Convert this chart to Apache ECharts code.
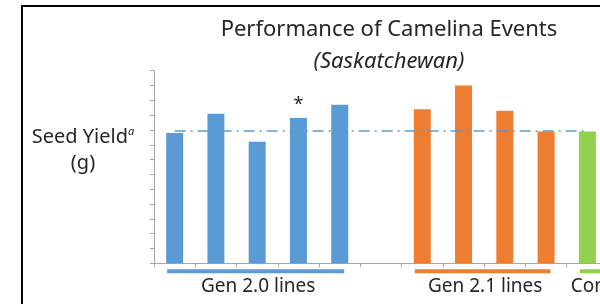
<!DOCTYPE html>
<html>
<head>
<meta charset="utf-8">
<script src="https://cdn.jsdelivr.net/npm/echarts@6/dist/echarts.min.js"></script>
<style>
  html, body { margin: 0; padding: 0; overflow: hidden; background: #fff; }
  #chart { width: 620px; height: 304px; }
</style>
</head>
<body>
<div id="chart"></div>
<script>
// Seed yield per camelina event (y axis 0..13, unlabeled)
const categories = ['g20a', 'g20b', 'g20c', 'g20d', 'g20e', 'gap', 'g21a', 'g21b', 'g21c', 'g21d', 'ctl'];
const gen20Yield = [8.8, 10.1, 8.2, 9.8, 10.7, null, null, null, null, null, null];
const gen21Yield = [null, null, null, null, null, null, 10.4, 12.0, 10.3, 8.9, null];
const controlYield = [null, null, null, null, null, null, null, null, null, null, 8.9];
const significant = [false, false, false, true, false, false, false, false, false, false, false];
const controlMean = 8.95;

const groupLabels = ['Gen 2.0 lines', 'Gen 2.1 lines', 'Control'];
const groupFirst = [0, 6, 10];
const groupLast = [4, 9, 10];
const groupColors = ['#5b9bd5', '#ed7d31', '#92d050'];

const FONT = '"Noto Sans", sans-serif';
const TEXT = '#262626';
const BAR_W = 17;

const chart = echarts.init(document.getElementById('chart'), null, { renderer: 'canvas' });

function barData(values) {
  return values.map((v, i) => {
    if (v === null) return null;
    if (!significant[i]) return v;
    return {
      value: v,
      label: { show: true, position: 'top', distance: 4, formatter: '*',
        color: TEXT, fontSize: 18, fontFamily: FONT },
    };
  });
}

chart.setOption({
  animation: false,
  backgroundColor: '#fff',
  title: [
    {
      text: 'Performance of Camelina Events',
      left: 384, top: 14, textAlign: 'center',
      textStyle: { fontFamily: FONT, fontSize: 22, fontWeight: 'normal', color: TEXT },
    },
    {
      text: '(Saskatchewan)',
      left: 384, top: 46, textAlign: 'center',
      textStyle: { fontFamily: FONT, fontSize: 22, fontWeight: 'normal', fontStyle: 'italic', color: TEXT },
    },
  ],
  grid: { left: 154, right: 12, top: 70.7, bottom: 40.7 },
  xAxis: {
    type: 'category',
    data: categories,
    axisLine: { lineStyle: { color: '#a6a6a6', width: 1 } },
    axisTick: { show: true, length: 4, lineStyle: { color: '#a6a6a6' } },
    axisLabel: { show: false },
    splitLine: { show: false },
  },
  yAxis: {
    type: 'value',
    min: 0, max: 13, interval: 1,
    axisLine: { show: true, lineStyle: { color: '#a6a6a6', width: 1 } },
    axisTick: { show: true, length: 4, lineStyle: { color: '#a6a6a6' } },
    axisLabel: { show: false },
    splitLine: { show: false },
  },
  series: [
    {
      name: 'Control mean',
      type: 'line',
      data: [],
      z: 1,
      markLine: {
        silent: true,
        symbol: 'none',
        label: { show: false },
        lineStyle: { color: '#5b9bd5', width: 1.6, type: [11, 5, 2, 5] },
        data: [[{ coord: [categories[0], controlMean] }, { coord: [categories[categories.length - 1], controlMean] }]],
      },
    },
    { name: 'Gen 2.0', type: 'bar', data: barData(gen20Yield), barWidth: BAR_W, barGap: '-100%', z: 3,
      itemStyle: { color: groupColors[0] } },
    { name: 'Gen 2.1', type: 'bar', data: barData(gen21Yield), barWidth: BAR_W, barGap: '-100%', z: 3,
      itemStyle: { color: groupColors[1] } },
    { name: 'Control', type: 'bar', data: barData(controlYield), barWidth: BAR_W, barGap: '-100%', z: 3,
      itemStyle: { color: groupColors[2] } },
  ],
  graphic: [
    {
      type: 'rect', id: 'frame', silent: true,
      shape: { x: 22, y: 6, width: 800, height: 500 },
      style: { fill: null, stroke: '#000', lineWidth: 2 },
    },
    {
      type: 'text', id: 'ylabel', x: 83, y: 124, silent: true,
      style: {
        text: 'Seed Yield{sup|a}\n(g)',
        align: 'center', verticalAlign: 'top',
        fontFamily: FONT, fontSize: 20, lineHeight: 26, fill: TEXT,
        rich: { sup: { fontFamily: FONT, fontSize: 11, fontStyle: 'italic', padding: [0, 0, 10, 0], fill: TEXT } },
      },
    },
  ],
});

// group underline bars + labels, placed from the category axis
const groupGraphics = [];
const lineY = chart.convertToPixel({ yAxisIndex: 0 }, 0) + 8;
groupLabels.forEach((label, g) => {
  const x0 = chart.convertToPixel({ xAxisIndex: 0 }, categories[groupFirst[g]]) - BAR_W / 2;
  let x1 = chart.convertToPixel({ xAxisIndex: 0 }, categories[groupLast[g]]) + BAR_W / 2;
  const isLast = g === groupLabels.length - 1;
  if (isLast) x1 = 640;
  groupGraphics.push({
    type: 'rect', id: 'gline' + g, silent: true,
    shape: { x: x0 + 1, y: lineY - 2, width: x1 - x0 - 5, height: 4 },
    style: { fill: groupColors[g] },
  });
  groupGraphics.push({
    type: 'text', id: 'glabel' + g, silent: true,
    x: isLast ? x0 - 8 : (x0 + x1) / 2 + 1,
    y: lineY + 6,
    style: {
      text: label, align: isLast ? 'left' : 'center', verticalAlign: 'top',
      fontFamily: FONT, fontSize: 19, fill: TEXT,
    },
  });
});
chart.setOption({ graphic: groupGraphics });
</script>
</body>
</html>
